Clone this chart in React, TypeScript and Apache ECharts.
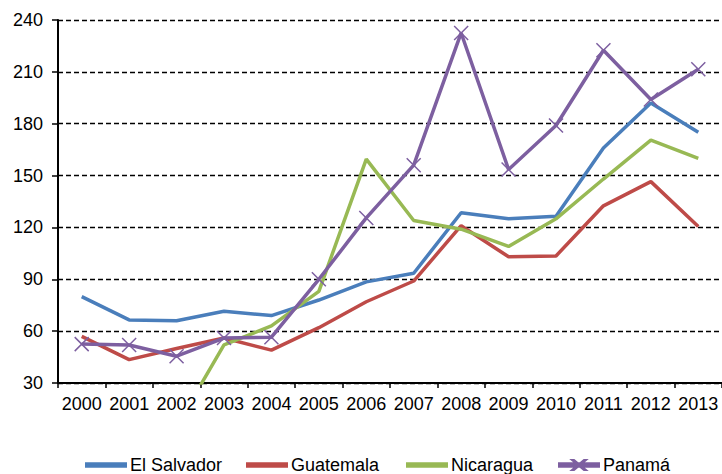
import React, { useEffect, useRef } from "react";
import * as echarts from "echarts";

const years = ["2000","2001","2002","2003","2004","2005","2006","2007","2008","2009","2010","2011","2012","2013"];
const elSalvador = [80, 66.5, 66, 71.5, 69, 78, 88.5, 93.5, 128.5, 125, 126.5, 166, 192, 175];
const guatemala = [57, 43.5, 50, 56, 49, 62, 77, 89, 121, 103, 103.5, 132.5, 146.5, 120.5];
const nicaragua = [null, null, 5, 52, 63, 83, 159.5, 124, 119, 109, 125, 148, 170.5, 160];
const panama = [52.5, 52, 45.5, 56, 56.5, 90, 125.5, 156, 232.5, 153.5, 179, 222.5, 194, 211.5];

const seriesNames = ["El Salvador", "Guatemala", "Nicaragua", "Panamá"];
const seriesColors = ["#4A7EBB", "#BE4B48", "#98B954", "#7D5FA0"];
const legendLeft = [80, 241, 401, 553];

const FONT = '"Liberation Sans", Arial, sans-serif';
const LINE_ICON = "path://M0,0L40,0L40,3.5L0,3.5Z";
const MARK_ICON =
  "path://M0,3.25L40,3.25L40,6.75L0,6.75Z M13,0L15,0L27,10L25,10Z M25,0L27,0L15,10L13,10Z";

export default function App() {
  const ref = useRef<HTMLDivElement>(null);
  useEffect(() => {
    if (!ref.current) return;
    const chart = echarts.init(ref.current, null, { renderer: "svg" });
    const datasets = [elSalvador, guatemala, nicaragua, panama];
    const series = seriesNames.map((name, i) => {
      const marker = i === 3;
      const color = seriesColors[i];
      return {
        name,
        type: "line",
        data: datasets[i],
        connectNulls: false,
        clip: true,
        symbol: marker ? "path://M0,0L10,10M10,0L0,10" : "none",
        symbolSize: 14,
        showSymbol: marker,
        lineStyle: { color, width: 3.5 },
        itemStyle: { color, borderColor: color, borderWidth: 1.5 },
        emphasis: { disabled: true },
      };
    });
    const legends = seriesNames.map((name, i) => ({
      left: legendLeft[i],
      top: 451,
      itemWidth: 40,
      itemHeight: i === 3 ? 10 : 3.5,
      itemGap: 0,
      textStyle: { fontFamily: FONT, fontSize: 18, color: "#000", padding: [0, 0, 0, -1] },
      data: [{ name, icon: i === 3 ? MARK_ICON : LINE_ICON }],
    }));
    chart.setOption({
      animation: false,
      textStyle: { fontFamily: FONT },
      grid: { left: 58, top: 20, right: 0, bottom: 91, containLabel: false },
      legend: legends,
      xAxis: {
        type: "category",
        data: years,
        boundaryGap: true,
        axisLine: { lineStyle: { color: "#000", width: 2 } },
        axisTick: { show: true, length: 5, lineStyle: { color: "#000", width: 1.5 } },
        axisLabel: { fontFamily: FONT, fontSize: 18, color: "#000", margin: 12, interval: 0 },
      },
      yAxis: {
        type: "value",
        min: 30,
        max: 240,
        interval: 30,
        axisLine: { show: true, lineStyle: { color: "#000", width: 2 } },
        axisTick: { show: true, length: 6, lineStyle: { color: "#000", width: 1.5 } },
        axisLabel: { fontFamily: FONT, fontSize: 18, color: "#000", margin: 15 },
        splitLine: { show: true, lineStyle: { color: "#000", width: 1.3, type: [5, 3] } },
      },
      series,
    });
    return () => chart.dispose();
  }, []);
  return (
    <div
      ref={ref}
      style={{ position: "fixed", left: 0, top: 0, width: 722, height: 474, background: "#fff" }}
    />
  );
}
